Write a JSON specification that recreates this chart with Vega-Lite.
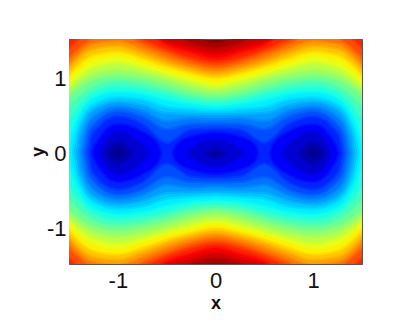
{"$schema":"https://vega.github.io/schema/vega-lite/v6.json","width":293,"height":225,"autosize":{"type":"none"},"padding":{"left":69,"top":39,"right":53,"bottom":68},"background":"white","view":{"fill":"#800000","stroke":"#555555","strokeWidth":1},
"data":{"values":[
{"t":0.96,"x":-1.5,"y":1.6,"y0":-1.6},{"t":0.96,"x":-1.25,"y":1.6,"y0":-1.6},{"t":0.96,"x":-1,"y":1.6,"y0":-1.6},{"t":0.96,"x":-0.75,"y":1.6,"y0":-1.6},{"t":0.96,"x":-0.5,"y":1.6,"y0":-1.6},{"t":0.96,"x":-0.25,"y":1.55,"y0":-1.55},{"t":0.96,"x":0,"y":1.46,"y0":-1.46},{"t":0.96,"x":0.25,"y":1.55,"y0":-1.55},{"t":0.96,"x":0.5,"y":1.6,"y0":-1.6},{"t":0.96,"x":0.75,"y":1.6,"y0":-1.6},{"t":0.96,"x":1,"y":1.6,"y0":-1.6},{"t":0.96,"x":1.25,"y":1.6,"y0":-1.6},{"t":0.96,"x":1.5,"y":1.6,"y0":-1.6},
{"t":0.92,"x":-1.5,"y":1.6,"y0":-1.6},{"t":0.92,"x":-1.25,"y":1.6,"y0":-1.6},{"t":0.92,"x":-1,"y":1.6,"y0":-1.6},{"t":0.92,"x":-0.75,"y":1.6,"y0":-1.6},{"t":0.92,"x":-0.5,"y":1.6,"y0":-1.6},{"t":0.92,"x":-0.25,"y":1.45,"y0":-1.45},{"t":0.92,"x":0,"y":1.38,"y0":-1.38},{"t":0.92,"x":0.25,"y":1.45,"y0":-1.45},{"t":0.92,"x":0.5,"y":1.6,"y0":-1.6},{"t":0.92,"x":0.75,"y":1.6,"y0":-1.6},{"t":0.92,"x":1,"y":1.6,"y0":-1.6},{"t":0.92,"x":1.25,"y":1.6,"y0":-1.6},{"t":0.92,"x":1.5,"y":1.6,"y0":-1.6},
{"t":0.88,"x":-1.5,"y":1.6,"y0":-1.6},{"t":0.88,"x":-1.25,"y":1.6,"y0":-1.6},{"t":0.88,"x":-1,"y":1.6,"y0":-1.6},{"t":0.88,"x":-0.75,"y":1.6,"y0":-1.6},{"t":0.88,"x":-0.5,"y":1.47,"y0":-1.47},{"t":0.88,"x":-0.25,"y":1.38,"y0":-1.38},{"t":0.88,"x":0,"y":1.31,"y0":-1.31},{"t":0.88,"x":0.25,"y":1.38,"y0":-1.38},{"t":0.88,"x":0.5,"y":1.47,"y0":-1.47},{"t":0.88,"x":0.75,"y":1.6,"y0":-1.6},{"t":0.88,"x":1,"y":1.6,"y0":-1.6},{"t":0.88,"x":1.25,"y":1.6,"y0":-1.6},{"t":0.88,"x":1.5,"y":1.6,"y0":-1.6},
{"t":0.84,"x":-1.5,"y":1.5,"y0":-1.5},{"t":0.84,"x":-1.25,"y":1.6,"y0":-1.6},{"t":0.84,"x":-1,"y":1.6,"y0":-1.6},{"t":0.84,"x":-0.75,"y":1.6,"y0":-1.6},{"t":0.84,"x":-0.5,"y":1.42,"y0":-1.42},{"t":0.84,"x":-0.25,"y":1.32,"y0":-1.32},{"t":0.84,"x":0,"y":1.24,"y0":-1.24},{"t":0.84,"x":0.25,"y":1.32,"y0":-1.32},{"t":0.84,"x":0.5,"y":1.42,"y0":-1.42},{"t":0.84,"x":0.75,"y":1.6,"y0":-1.6},{"t":0.84,"x":1,"y":1.6,"y0":-1.6},{"t":0.84,"x":1.25,"y":1.6,"y0":-1.6},{"t":0.84,"x":1.5,"y":1.5,"y0":-1.5},
{"t":0.8,"x":-1.5,"y":1.375,"y0":-1.375},{"t":0.8,"x":-1.25,"y":1.6,"y0":-1.6},{"t":0.8,"x":-1,"y":1.6,"y0":-1.6},{"t":0.8,"x":-0.75,"y":1.5,"y0":-1.5},{"t":0.8,"x":-0.5,"y":1.36,"y0":-1.36},{"t":0.8,"x":-0.25,"y":1.25,"y0":-1.25},{"t":0.8,"x":0,"y":1.19,"y0":-1.19},{"t":0.8,"x":0.25,"y":1.25,"y0":-1.25},{"t":0.8,"x":0.5,"y":1.36,"y0":-1.36},{"t":0.8,"x":0.75,"y":1.5,"y0":-1.5},{"t":0.8,"x":1,"y":1.6,"y0":-1.6},{"t":0.8,"x":1.25,"y":1.6,"y0":-1.6},{"t":0.8,"x":1.5,"y":1.375,"y0":-1.375},
{"t":0.76,"x":-1.5,"y":1.25,"y0":-1.25},{"t":0.76,"x":-1.25,"y":1.52,"y0":-1.52},{"t":0.76,"x":-1,"y":1.6,"y0":-1.6},{"t":0.76,"x":-0.75,"y":1.44,"y0":-1.44},{"t":0.76,"x":-0.5,"y":1.31,"y0":-1.31},{"t":0.76,"x":-0.25,"y":1.2,"y0":-1.2},{"t":0.76,"x":0,"y":1.14,"y0":-1.14},{"t":0.76,"x":0.25,"y":1.2,"y0":-1.2},{"t":0.76,"x":0.5,"y":1.31,"y0":-1.31},{"t":0.76,"x":0.75,"y":1.44,"y0":-1.44},{"t":0.76,"x":1,"y":1.6,"y0":-1.6},{"t":0.76,"x":1.25,"y":1.52,"y0":-1.52},{"t":0.76,"x":1.5,"y":1.25,"y0":-1.25},
{"t":0.72,"x":-1.5,"y":1.17,"y0":-1.17},{"t":0.72,"x":-1.25,"y":1.44,"y0":-1.44},{"t":0.72,"x":-1,"y":1.48,"y0":-1.48},{"t":0.72,"x":-0.75,"y":1.375,"y0":-1.375},{"t":0.72,"x":-0.5,"y":1.25,"y0":-1.25},{"t":0.72,"x":-0.25,"y":1.15,"y0":-1.15},{"t":0.72,"x":0,"y":1.09,"y0":-1.09},{"t":0.72,"x":0.25,"y":1.15,"y0":-1.15},{"t":0.72,"x":0.5,"y":1.25,"y0":-1.25},{"t":0.72,"x":0.75,"y":1.375,"y0":-1.375},{"t":0.72,"x":1,"y":1.48,"y0":-1.48},{"t":0.72,"x":1.25,"y":1.44,"y0":-1.44},{"t":0.72,"x":1.5,"y":1.17,"y0":-1.17},
{"t":0.68,"x":-1.5,"y":1.1,"y0":-1.1},{"t":0.68,"x":-1.25,"y":1.37,"y0":-1.37},{"t":0.68,"x":-1,"y":1.41,"y0":-1.41},{"t":0.68,"x":-0.75,"y":1.31,"y0":-1.31},{"t":0.68,"x":-0.5,"y":1.19,"y0":-1.19},{"t":0.68,"x":-0.25,"y":1.1,"y0":-1.1},{"t":0.68,"x":0,"y":1.04,"y0":-1.04},{"t":0.68,"x":0.25,"y":1.1,"y0":-1.1},{"t":0.68,"x":0.5,"y":1.19,"y0":-1.19},{"t":0.68,"x":0.75,"y":1.31,"y0":-1.31},{"t":0.68,"x":1,"y":1.41,"y0":-1.41},{"t":0.68,"x":1.25,"y":1.37,"y0":-1.37},{"t":0.68,"x":1.5,"y":1.1,"y0":-1.1},
{"t":0.64,"x":-1.5,"y":1.02,"y0":-1.02},{"t":0.64,"x":-1.25,"y":1.29,"y0":-1.29},{"t":0.64,"x":-1,"y":1.34,"y0":-1.34},{"t":0.64,"x":-0.75,"y":1.25,"y0":-1.25},{"t":0.64,"x":-0.5,"y":1.14,"y0":-1.14},{"t":0.64,"x":-0.25,"y":1.05,"y0":-1.05},{"t":0.64,"x":0,"y":0.99,"y0":-0.99},{"t":0.64,"x":0.25,"y":1.05,"y0":-1.05},{"t":0.64,"x":0.5,"y":1.14,"y0":-1.14},{"t":0.64,"x":0.75,"y":1.25,"y0":-1.25},{"t":0.64,"x":1,"y":1.34,"y0":-1.34},{"t":0.64,"x":1.25,"y":1.29,"y0":-1.29},{"t":0.64,"x":1.5,"y":1.02,"y0":-1.02},
{"t":0.6,"x":-1.5,"y":0.95,"y0":-0.95},{"t":0.6,"x":-1.25,"y":1.21,"y0":-1.21},{"t":0.6,"x":-1,"y":1.27,"y0":-1.27},{"t":0.6,"x":-0.75,"y":1.18,"y0":-1.18},{"t":0.6,"x":-0.5,"y":1.08,"y0":-1.08},{"t":0.6,"x":-0.25,"y":1,"y0":-1},{"t":0.6,"x":0,"y":0.93,"y0":-0.93},{"t":0.6,"x":0.25,"y":1,"y0":-1},{"t":0.6,"x":0.5,"y":1.08,"y0":-1.08},{"t":0.6,"x":0.75,"y":1.18,"y0":-1.18},{"t":0.6,"x":1,"y":1.27,"y0":-1.27},{"t":0.6,"x":1.25,"y":1.21,"y0":-1.21},{"t":0.6,"x":1.5,"y":0.95,"y0":-0.95},
{"t":0.56,"x":-1.5,"y":0.88,"y0":-0.88},{"t":0.56,"x":-1.25,"y":1.125,"y0":-1.125},{"t":0.56,"x":-1,"y":1.19,"y0":-1.19},{"t":0.56,"x":-0.75,"y":1.12,"y0":-1.12},{"t":0.56,"x":-0.5,"y":1.03,"y0":-1.03},{"t":0.56,"x":-0.25,"y":0.94,"y0":-0.94},{"t":0.56,"x":0,"y":0.875,"y0":-0.875},{"t":0.56,"x":0.25,"y":0.94,"y0":-0.94},{"t":0.56,"x":0.5,"y":1.03,"y0":-1.03},{"t":0.56,"x":0.75,"y":1.12,"y0":-1.12},{"t":0.56,"x":1,"y":1.19,"y0":-1.19},{"t":0.56,"x":1.25,"y":1.125,"y0":-1.125},{"t":0.56,"x":1.5,"y":0.88,"y0":-0.88},
{"t":0.52,"x":-1.5,"y":0.82,"y0":-0.82},{"t":0.52,"x":-1.25,"y":1.04,"y0":-1.04},{"t":0.52,"x":-1,"y":1.1,"y0":-1.1},{"t":0.52,"x":-0.75,"y":1.05,"y0":-1.05},{"t":0.52,"x":-0.5,"y":0.97,"y0":-0.97},{"t":0.52,"x":-0.25,"y":0.875,"y0":-0.875},{"t":0.52,"x":0,"y":0.82,"y0":-0.82},{"t":0.52,"x":0.25,"y":0.875,"y0":-0.875},{"t":0.52,"x":0.5,"y":0.97,"y0":-0.97},{"t":0.52,"x":0.75,"y":1.05,"y0":-1.05},{"t":0.52,"x":1,"y":1.1,"y0":-1.1},{"t":0.52,"x":1.25,"y":1.04,"y0":-1.04},{"t":0.52,"x":1.5,"y":0.82,"y0":-0.82},
{"t":0.48,"x":-1.5,"y":0.75,"y0":-0.75},{"t":0.48,"x":-1.25,"y":0.96,"y0":-0.96},{"t":0.48,"x":-1,"y":1.02,"y0":-1.02},{"t":0.48,"x":-0.75,"y":0.98,"y0":-0.98},{"t":0.48,"x":-0.5,"y":0.9,"y0":-0.9},{"t":0.48,"x":-0.25,"y":0.81,"y0":-0.81},{"t":0.48,"x":0,"y":0.76,"y0":-0.76},{"t":0.48,"x":0.25,"y":0.81,"y0":-0.81},{"t":0.48,"x":0.5,"y":0.9,"y0":-0.9},{"t":0.48,"x":0.75,"y":0.98,"y0":-0.98},{"t":0.48,"x":1,"y":1.02,"y0":-1.02},{"t":0.48,"x":1.25,"y":0.96,"y0":-0.96},{"t":0.48,"x":1.5,"y":0.75,"y0":-0.75},
{"t":0.44,"x":-1.5,"y":0.61,"y0":-0.61},{"t":0.44,"x":-1.25,"y":0.875,"y0":-0.875},{"t":0.44,"x":-1,"y":0.95,"y0":-0.95},{"t":0.44,"x":-0.75,"y":0.91,"y0":-0.91},{"t":0.44,"x":-0.5,"y":0.83,"y0":-0.83},{"t":0.44,"x":-0.25,"y":0.75,"y0":-0.75},{"t":0.44,"x":0,"y":0.71,"y0":-0.71},{"t":0.44,"x":0.25,"y":0.75,"y0":-0.75},{"t":0.44,"x":0.5,"y":0.83,"y0":-0.83},{"t":0.44,"x":0.75,"y":0.91,"y0":-0.91},{"t":0.44,"x":1,"y":0.95,"y0":-0.95},{"t":0.44,"x":1.25,"y":0.875,"y0":-0.875},{"t":0.44,"x":1.5,"y":0.61,"y0":-0.61},
{"t":0.4,"x":-1.5,"y":0.42,"y0":-0.42},{"t":0.4,"x":-1.25,"y":0.79,"y0":-0.79},{"t":0.4,"x":-1,"y":0.875,"y0":-0.875},{"t":0.4,"x":-0.75,"y":0.84,"y0":-0.84},{"t":0.4,"x":-0.5,"y":0.77,"y0":-0.77},{"t":0.4,"x":-0.25,"y":0.69,"y0":-0.69},{"t":0.4,"x":0,"y":0.66,"y0":-0.66},{"t":0.4,"x":0.25,"y":0.69,"y0":-0.69},{"t":0.4,"x":0.5,"y":0.77,"y0":-0.77},{"t":0.4,"x":0.75,"y":0.84,"y0":-0.84},{"t":0.4,"x":1,"y":0.875,"y0":-0.875},{"t":0.4,"x":1.25,"y":0.79,"y0":-0.79},{"t":0.4,"x":1.5,"y":0.42,"y0":-0.42},
{"t":0.36,"x":-1.49,"y":0,"y0":0},{"t":0.36,"x":-1.46,"y":0.25,"y0":-0.25},{"t":0.36,"x":-1.25,"y":0.71,"y0":-0.71},{"t":0.36,"x":-1,"y":0.8,"y0":-0.8},{"t":0.36,"x":-0.75,"y":0.77,"y0":-0.77},{"t":0.36,"x":-0.5,"y":0.69,"y0":-0.69},{"t":0.36,"x":-0.25,"y":0.63,"y0":-0.63},{"t":0.36,"x":0,"y":0.605,"y0":-0.605},{"t":0.36,"x":0.25,"y":0.63,"y0":-0.63},{"t":0.36,"x":0.5,"y":0.69,"y0":-0.69},{"t":0.36,"x":0.75,"y":0.77,"y0":-0.77},{"t":0.36,"x":1,"y":0.8,"y0":-0.8},{"t":0.36,"x":1.25,"y":0.71,"y0":-0.71},{"t":0.36,"x":1.46,"y":0.25,"y0":-0.25},{"t":0.36,"x":1.49,"y":0,"y0":0},
{"t":0.32,"x":-1.45,"y":0,"y0":0},{"t":0.32,"x":-1.42,"y":0.24,"y0":-0.24},{"t":0.32,"x":-1.25,"y":0.63,"y0":-0.63},{"t":0.32,"x":-1,"y":0.73,"y0":-0.73},{"t":0.32,"x":-0.75,"y":0.7,"y0":-0.7},{"t":0.32,"x":-0.5,"y":0.6,"y0":-0.6},{"t":0.32,"x":-0.25,"y":0.57,"y0":-0.57},{"t":0.32,"x":0,"y":0.55,"y0":-0.55},{"t":0.32,"x":0.25,"y":0.57,"y0":-0.57},{"t":0.32,"x":0.5,"y":0.6,"y0":-0.6},{"t":0.32,"x":0.75,"y":0.7,"y0":-0.7},{"t":0.32,"x":1,"y":0.73,"y0":-0.73},{"t":0.32,"x":1.25,"y":0.63,"y0":-0.63},{"t":0.32,"x":1.42,"y":0.24,"y0":-0.24},{"t":0.32,"x":1.45,"y":0,"y0":0},
{"t":0.28,"x":-1.41,"y":0,"y0":0},{"t":0.28,"x":-1.38,"y":0.24,"y0":-0.24},{"t":0.28,"x":-1.25,"y":0.56,"y0":-0.56},{"t":0.28,"x":-1,"y":0.67,"y0":-0.67},{"t":0.28,"x":-0.75,"y":0.625,"y0":-0.625},{"t":0.28,"x":-0.5,"y":0.52,"y0":-0.52},{"t":0.28,"x":-0.25,"y":0.51,"y0":-0.51},{"t":0.28,"x":0,"y":0.5,"y0":-0.5},{"t":0.28,"x":0.25,"y":0.51,"y0":-0.51},{"t":0.28,"x":0.5,"y":0.52,"y0":-0.52},{"t":0.28,"x":0.75,"y":0.625,"y0":-0.625},{"t":0.28,"x":1,"y":0.67,"y0":-0.67},{"t":0.28,"x":1.25,"y":0.56,"y0":-0.56},{"t":0.28,"x":1.38,"y":0.24,"y0":-0.24},{"t":0.28,"x":1.41,"y":0,"y0":0},
{"t":0.24,"x":-1.37,"y":0,"y0":0},{"t":0.24,"x":-1.34,"y":0.235,"y0":-0.235},{"t":0.24,"x":-1.25,"y":0.47,"y0":-0.47},{"t":0.24,"x":-1,"y":0.61,"y0":-0.61},{"t":0.24,"x":-0.75,"y":0.55,"y0":-0.55},{"t":0.24,"x":-0.5,"y":0.415,"y0":-0.415},{"t":0.24,"x":-0.25,"y":0.45,"y0":-0.45},{"t":0.24,"x":0,"y":0.44,"y0":-0.44},{"t":0.24,"x":0.25,"y":0.45,"y0":-0.45},{"t":0.24,"x":0.5,"y":0.415,"y0":-0.415},{"t":0.24,"x":0.75,"y":0.55,"y0":-0.55},{"t":0.24,"x":1,"y":0.61,"y0":-0.61},{"t":0.24,"x":1.25,"y":0.47,"y0":-0.47},{"t":0.24,"x":1.34,"y":0.235,"y0":-0.235},{"t":0.24,"x":1.37,"y":0,"y0":0},
{"t":0.2,"x":-1.33,"y":0,"y0":0},{"t":0.2,"x":-1.3,"y":0.22,"y0":-0.22},{"t":0.2,"x":-1.25,"y":0.36,"y0":-0.36},{"t":0.2,"x":-1,"y":0.55,"y0":-0.55},{"t":0.2,"x":-0.75,"y":0.475,"y0":-0.475},{"t":0.2,"x":-0.5,"y":0.305,"y0":-0.305},{"t":0.2,"x":-0.25,"y":0.375,"y0":-0.375},{"t":0.2,"x":0,"y":0.38,"y0":-0.38},{"t":0.2,"x":0.25,"y":0.375,"y0":-0.375},{"t":0.2,"x":0.5,"y":0.305,"y0":-0.305},{"t":0.2,"x":0.75,"y":0.475,"y0":-0.475},{"t":0.2,"x":1,"y":0.55,"y0":-0.55},{"t":0.2,"x":1.25,"y":0.36,"y0":-0.36},{"t":0.2,"x":1.3,"y":0.22,"y0":-0.22},{"t":0.2,"x":1.33,"y":0,"y0":0},
{"t":0.16,"x":-1.29,"y":0,"y0":0},{"t":0.16,"x":-1.25,"y":0.25,"y0":-0.25},{"t":0.16,"x":-1,"y":0.475,"y0":-0.475},{"t":0.16,"x":-0.75,"y":0.375,"y0":-0.375},{"t":0.16,"x":-0.5,"y":0.125,"y0":-0.125},{"t":0.16,"x":-0.25,"y":0.3,"y0":-0.3},{"t":0.16,"x":0,"y":0.32,"y0":-0.32},{"t":0.16,"x":0.25,"y":0.3,"y0":-0.3},{"t":0.16,"x":0.5,"y":0.125,"y0":-0.125},{"t":0.16,"x":0.75,"y":0.375,"y0":-0.375},{"t":0.16,"x":1,"y":0.475,"y0":-0.475},{"t":0.16,"x":1.25,"y":0.25,"y0":-0.25},{"t":0.16,"x":1.29,"y":0,"y0":0},
{"t":0.12,"x":-1.25,"y":0,"y0":0},{"t":0.12,"x":-1.22,"y":0.12,"y0":-0.12},{"t":0.12,"x":-1,"y":0.375,"y0":-0.375},{"t":0.12,"x":-0.75,"y":0.275,"y0":-0.275},{"t":0.12,"x":-0.59,"y":0.1,"y0":-0.1},{"t":0.12,"x":-0.5625,"y":0,"y0":0},{"t":0.12,"x":-0.5,"y":null,"y0":null},{"t":0.12,"x":-0.43,"y":0,"y0":0},{"t":0.12,"x":-0.4,"y":0.1,"y0":-0.1},{"t":0.12,"x":-0.25,"y":0.21,"y0":-0.21},{"t":0.12,"x":0,"y":0.265,"y0":-0.265},{"t":0.12,"x":0.25,"y":0.21,"y0":-0.21},{"t":0.12,"x":0.4,"y":0.1,"y0":-0.1},{"t":0.12,"x":0.43,"y":0,"y0":0},{"t":0.12,"x":0.5,"y":null,"y0":null},{"t":0.12,"x":0.5625,"y":0,"y0":0},{"t":0.12,"x":0.59,"y":0.1,"y0":-0.1},{"t":0.12,"x":0.75,"y":0.275,"y0":-0.275},{"t":0.12,"x":1,"y":0.375,"y0":-0.375},{"t":0.12,"x":1.22,"y":0.12,"y0":-0.12},{"t":0.12,"x":1.25,"y":0,"y0":0},
{"t":0.08,"x":-1.167,"y":0,"y0":0},{"t":0.08,"x":-1.14,"y":0.13,"y0":-0.13},{"t":0.08,"x":-1,"y":0.275,"y0":-0.275},{"t":0.08,"x":-0.75,"y":0.1,"y0":-0.1},{"t":0.08,"x":-0.6875,"y":0,"y0":0},{"t":0.08,"x":-0.5,"y":null,"y0":null},{"t":0.08,"x":-0.285,"y":0,"y0":0},{"t":0.08,"x":-0.25,"y":0.04,"y0":-0.04},{"t":0.08,"x":0,"y":0.17,"y0":-0.17},{"t":0.08,"x":0.25,"y":0.04,"y0":-0.04},{"t":0.08,"x":0.285,"y":0,"y0":0},{"t":0.08,"x":0.5,"y":null,"y0":null},{"t":0.08,"x":0.6875,"y":0,"y0":0},{"t":0.08,"x":0.75,"y":0.1,"y0":-0.1},{"t":0.08,"x":1,"y":0.275,"y0":-0.275},{"t":0.08,"x":1.14,"y":0.13,"y0":-0.13},{"t":0.08,"x":1.167,"y":0,"y0":0},
{"t":0.04,"x":-1.12,"y":0,"y0":0},{"t":0.04,"x":-1,"y":0.14,"y0":-0.14},{"t":0.04,"x":-0.86,"y":0,"y0":0},{"t":0.04,"x":-0.5,"y":null,"y0":null},{"t":0.04,"x":-0.1,"y":0,"y0":0},{"t":0.04,"x":0,"y":0.06,"y0":-0.06},{"t":0.04,"x":0.1,"y":0,"y0":0},{"t":0.04,"x":0.5,"y":null,"y0":null},{"t":0.04,"x":0.86,"y":0,"y0":0},{"t":0.04,"x":1,"y":0.14,"y0":-0.14},{"t":0.04,"x":1.12,"y":0,"y0":0},
{"t":0.01,"x":-1.05,"y":0,"y0":0},{"t":0.01,"x":-1,"y":0.04,"y0":-0.04},{"t":0.01,"x":-0.95,"y":0,"y0":0},{"t":0.01,"x":0,"y":null,"y0":null},{"t":0.01,"x":0.95,"y":0,"y0":0},{"t":0.01,"x":1,"y":0.04,"y0":-0.04},{"t":0.01,"x":1.05,"y":0,"y0":0}
]},
"mark":{"type":"area","interpolate":"monotone","clip":true,"strokeWidth":4,"strokeOpacity":0.5},
"encoding":{
"x":{"field":"x","type":"quantitative","scale":{"domain":[-1.5,1.5],"nice":false,"zero":false},"axis":{"values":[-1,0,1],"labelExpr":"''+datum.value","grid":false,"ticks":false,"domain":false,"labelFont":"Liberation Sans","labelFontSize":22,"labelColor":"#111111","labelPadding":6,"title":"x","titleFont":"Liberation Sans","titleFontSize":18,"titleFontWeight":"bold","titleColor":"#111111","titlePadding":3}},
"y":{"field":"y","type":"quantitative","stack":null,"scale":{"domain":[-1.48,1.52],"nice":false,"zero":false},"axis":{"values":[-1,0,1],"labelExpr":"''+datum.value","grid":false,"ticks":false,"domain":false,"labelFont":"Liberation Sans","labelFontSize":22,"labelColor":"#111111","labelPadding":3,"title":"y","titleFont":"Liberation Sans","titleFontSize":18,"titleFontWeight":"bold","titleColor":"#111111","titlePadding":-1}},
"y2":{"field":"y0"},
"detail":{"field":"t","type":"nominal"},
"fill":{"field":"t","type":"quantitative","legend":null,"scale":{"domain":[0,0.125,0.375,0.625,0.875,1],"range":["#000080","#0000ff","#00ffff","#ffff00","#ff0000","#800000"],"interpolate":"rgb"}},
"stroke":{"field":"t","type":"quantitative","legend":null,"scale":{"domain":[0,0.125,0.375,0.625,0.875,1],"range":["#000080","#0000ff","#00ffff","#ffff00","#ff0000","#800000"],"interpolate":"rgb"}}
}}
